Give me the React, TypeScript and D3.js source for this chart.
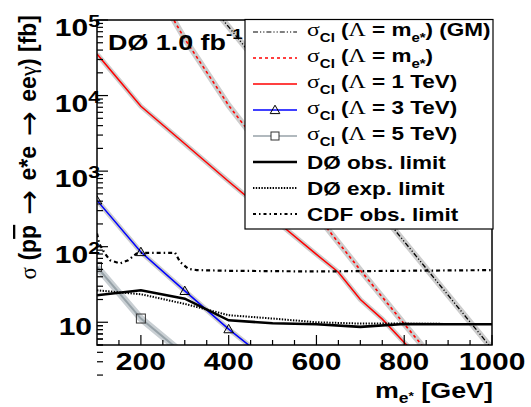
import React from 'react';
import * as d3 from 'd3';

const W = 531, H = 407;
const PL = 97, PR = 492, PT = 20, PB = 345;
const SX = 1.25;
const FONT = "'Liberation Sans', Arial, Helvetica, sans-serif";
const SYM = "'Liberation Serif', 'DejaVu Serif', serif";
const ARR = "'DejaVu Sans', sans-serif";

// Data (mass in GeV, cross section in fb)
const massGM = [300, 400, 500, 600, 700, 800, 900, 1000];
const xsecGM = [417000, 80900, 15800, 3080, 600, 117, 22.8, 4.45];

const massLm = [200, 300, 400, 500, 600, 700, 800, 900];
const xsecLm = [562000, 56200, 7410, 1320, 263, 49, 9.5, 1.9];

const mass1 = [100, 200, 300, 400, 500, 600, 650, 700, 750, 800, 900];
const xsec1 = [35500, 7200, 2300, 730, 240, 79, 46, 20, 11, 5.4, 1.4];

const mass3 = [100, 200, 300, 400, 500];
const xsec3 = [410, 85, 26, 8.1, 2.8];

const mass5 = [100, 200, 300];
const xsec5 = [54, 11.2, 3.7];

const massLim = [100, 200, 300, 400, 500, 600, 700, 800, 900, 1000];
const obsLim = [22.8, 26.5, 20.5, 10.6, 9.7, 9.4, 8.7, 9.5, 9.4, 9.4];
const expLim = [26.5, 23.5, 17.5, 12.4, 11.2, 10.0, 9.6, 9.6, 9.5, 9.5];

const massCDF = [100, 105, 118, 130, 152, 171, 190, 200, 278, 289, 308, 327, 400, 600, 800, 1000];
const cdfLim = [150, 110, 81, 66, 60, 66, 81, 83, 83, 63, 51, 49, 48, 47, 48, 49];

const xMajor = [200, 400, 600, 800, 1000];
const yDecades = [10, 100, 1000, 10000, 100000];

const x = d3.scaleLinear().domain([100, 1000]).range([PL, PR]);
const y = d3.scaleLog().domain([5, 1e5]).range([PB, PT]);

const line = d3.line<[number, number]>().x(d => x(d[0])).y(d => y(d[1]));
const zip = (a: number[], b: number[]) => a.map((v, i) => [v, b[i]] as [number, number]);

const BAND = '#cdcdcd';

function T(props: { x: number; y: number; anchor?: string; size: number; children: React.ReactNode; weight?: string }) {
  const { x: tx, y: ty, anchor = 'start', size, children, weight = 'bold' } = props;
  return (
    <g transform={`translate(${tx},${ty}) scale(${SX},1)`}>
      <text textAnchor={anchor as any} fontSize={size} fontWeight={weight} fontFamily={FONT} fill="#000">
        {children}
      </text>
    </g>
  );
}

function Tri({ cx, cy }: { cx: number; cy: number }) {
  const s = 4.8;
  return <path d={`M${cx},${cy - s}L${cx + s},${cy + s * 0.75}L${cx - s},${cy + s * 0.75}Z`} fill="none" stroke="#000" strokeWidth={1} />;
}
function Sq({ cx, cy }: { cx: number; cy: number }) {
  const s = 4.5;
  return <rect x={cx - s} y={cy - s} width={2 * s} height={2 * s} fill="none" stroke="#333" strokeWidth={1} />;
}

function SigmaLabel({ y0, rest }: { y0: number; rest: React.ReactNode }) {
  return (
    <g transform={`translate(307,${y0}) scale(${SX},1)`}>
      <text fontSize={18} fontWeight="bold" fontFamily={FONT}>
        <tspan fontFamily={SYM} fontWeight="normal" fontSize={19}>σ</tspan>
        <tspan fontSize={12} dy={6}>CI</tspan>
        <tspan dy={-6}> (</tspan>
        <tspan fontFamily={SYM} fontWeight="normal" fontSize={19}>Λ</tspan>
        {rest}
      </text>
    </g>
  );
}

export default function App() {
  const minorX: number[] = [];
  for (let m = 150; m <= 1000; m += 50) if (!xMajor.includes(m)) minorX.push(m);
  const minorY: number[] = [];
  for (let d = 1; d <= 10000; d *= 10) for (let k = 2; k <= 9; k++) minorY.push(k * d);
  [5, 6, 7, 8, 9].forEach(v => minorY.push(v));

  const rows = [32, 58, 84, 110, 136, 162, 188, 214];
  const LX0 = 253, LX1 = 297;

  return (
    <svg width={W} height={H} style={{ display: 'block', position: 'absolute', left: 0, top: 0 }}>
      <rect width={W} height={H} fill="#fff" />
      <defs>
        <clipPath id="plot"><rect x={PL} y={PT} width={PR - PL} height={PB - PT} /></clipPath>
      </defs>
      <g clipPath="url(#plot)" fill="none">
        {/* bands */}
        <path d={line(zip(massGM, xsecGM))!} stroke={BAND} strokeWidth={6} />
        <path d={line(zip(massLm, xsecLm))!} stroke={BAND} strokeWidth={6} />
        <path d={line(zip(mass1, xsec1))!} stroke={BAND} strokeWidth={5} />
        <path d={line(zip(mass3, xsec3))!} stroke={BAND} strokeWidth={5} />
        <path d={line(zip(mass5, xsec5))!} stroke="#c9cfd3" strokeWidth={7} />
        {/* theory lines */}
        <path d={line(zip(massGM, xsecGM))!} stroke="#000" strokeWidth={1.3} strokeDasharray="5,2,1.2,2,1.2,2" />
        <path d={line(zip(massLm, xsecLm))!} stroke="#f00" strokeWidth={1.6} strokeDasharray="3,3" />
        <path d={line(zip(mass1, xsec1))!} stroke="#f00" strokeWidth={1.5} />
        <path d={line(zip(mass3, xsec3))!} stroke="#00f" strokeWidth={1.5} />
        <path d={line(zip(mass5, xsec5))!} stroke="#97a2a8" strokeWidth={2} />
        {/* limits */}
        <path d={line(zip(massCDF, cdfLim))!} stroke="#000" strokeWidth={2.2} strokeDasharray="4,3,1.5,3" />
        <path d={line(zip(massLim, expLim))!} stroke="#000" strokeWidth={2} strokeDasharray="1.4,1.4" />
        <path d={line(zip(massLim, obsLim))!} stroke="#000" strokeWidth={2.6} />
        {/* markers */}
        {mass3.slice(0, 4).map((m, i) => <Tri key={'t' + i} cx={x(m)} cy={y(xsec3[i])} />)}
        {mass5.slice(0, 2).map((m, i) => <Sq key={'s' + i} cx={x(m)} cy={y(xsec5[i])} />)}
      </g>

      {/* frame */}
      <rect x={PL} y={PT} width={PR - PL} height={PB - PT} fill="none" stroke="#000" strokeWidth={1.5} />
      {/* x ticks */}
      {xMajor.map(m => <line key={'xm' + m} x1={x(m)} x2={x(m)} y1={PB} y2={PB - 10} stroke="#000" strokeWidth={1.2} />)}
      {minorX.map(m => <line key={'xn' + m} x1={x(m)} x2={x(m)} y1={PB} y2={PB - 5} stroke="#000" strokeWidth={1.2} />)}
      {/* y ticks */}
      {yDecades.map(v => <line key={'ym' + v} x1={PL} x2={PL + 11} y1={y(v)} y2={y(v)} stroke="#000" strokeWidth={1.2} />)}
      {minorY.map(v => <line key={'yn' + v} x1={PL} x2={PL + 6} y1={y(v)} y2={y(v)} stroke="#000" strokeWidth={1.2} />)}

      {/* x tick labels */}
      {xMajor.map(m => <T key={'xl' + m} x={x(m)} y={370} anchor="middle" size={24}>{String(m)}</T>)}
      {/* y tick labels */}
      {yDecades.map(v => {
        const e = Math.round(Math.log10(v));
        if (e === 1) return <T key={'yl' + v} x={92} y={y(v) + 12.5} anchor="end" size={24}>10</T>;
        return (
          <g key={'yl' + v} transform={`translate(100,${y(v) + 16}) scale(${SX},1)`}>
            <text textAnchor="end" fontSize={24} fontWeight="bold" fontFamily={FONT}>
              10<tspan fontSize={17} dy={-9}>{String(e)}</tspan>
            </text>
          </g>
        );
      })}

      {/* x title */}
      <g transform={`translate(493,398) scale(${SX},1)`}>
        <text textAnchor="end" fontSize={21.5} fontWeight="bold" fontFamily={FONT}>
          m<tspan fontSize={14} dy={5}>e</tspan><tspan fontSize={11} dy={-3}>*</tspan><tspan dy={-2}> [GeV]</tspan>
        </text>
      </g>
      {/* y title */}
      <g transform={`translate(36,15) rotate(-90)`}>
        <text textAnchor="end" fontSize={23} fontWeight="bold" fontFamily={FONT}>
          <tspan fontFamily={SYM} fontWeight="normal">σ</tspan> (p<tspan style={{ textDecoration: 'overline' }}>p</tspan>
          <tspan fontFamily={ARR} fontWeight="normal" fontSize={30} dy={3}> → </tspan><tspan dy={-3}>e*e</tspan><tspan fontFamily={ARR} fontWeight="normal" fontSize={30} dy={3}> → </tspan><tspan dy={-3}>ee</tspan><tspan fontFamily={SYM} fontWeight="normal">γ</tspan>) [fb]
        </text>
      </g>

      {/* experiment label */}
      <g transform={`translate(108,50) scale(${SX},1)`}>
        <text fontSize={21.5} fontWeight="bold" fontFamily={FONT}>
          DØ 1.0 fb<tspan fontSize={15} dy={-11}>-1</tspan>
        </text>
      </g>

      {/* legend */}
      <rect x={245} y={19.5} width={248} height={209.5} fill="#fff" stroke="#000" strokeWidth={1.2} />
      <line x1={LX0} x2={LX1} y1={rows[0]} y2={rows[0]} stroke="#000" strokeWidth={1.2} strokeDasharray="5,2,1.2,2,1.2,2" />
      <line x1={LX0} x2={LX1} y1={rows[1]} y2={rows[1]} stroke="#f00" strokeWidth={1.5} strokeDasharray="3,3" />
      <line x1={LX0} x2={LX1} y1={rows[2]} y2={rows[2]} stroke="#f00" strokeWidth={1.5} />
      <line x1={LX0} x2={LX1} y1={rows[3]} y2={rows[3]} stroke="#00f" strokeWidth={1.5} />
      <Tri cx={275} cy={rows[3]} />
      <line x1={LX0} x2={LX1} y1={rows[4]} y2={rows[4]} stroke="#97a2a8" strokeWidth={1.5} />
      <rect x={271} y={rows[4] - 4} width={8} height={8} fill="#fff" stroke="#333" strokeWidth={1} />
      <line x1={LX0} x2={LX1} y1={rows[5]} y2={rows[5]} stroke="#000" strokeWidth={2.6} />
      <line x1={LX0} x2={LX1} y1={rows[6]} y2={rows[6]} stroke="#000" strokeWidth={2} strokeDasharray="1.4,1.4" />
      <line x1={LX0} x2={LX1} y1={rows[7]} y2={rows[7]} stroke="#000" strokeWidth={2} strokeDasharray="3,3,1.5,3" />

      <SigmaLabel y0={rows[0] + 4} rest={<><tspan> = m</tspan><tspan fontSize={12} dy={6}>e*</tspan><tspan dy={-6}>) (GM)</tspan></>} />
      <SigmaLabel y0={rows[1] + 4} rest={<><tspan> = m</tspan><tspan fontSize={12} dy={6}>e*</tspan><tspan dy={-6}>)</tspan></>} />
      <SigmaLabel y0={rows[2] + 4} rest={<tspan> = 1 TeV)</tspan>} />
      <SigmaLabel y0={rows[3] + 4} rest={<tspan> = 3 TeV)</tspan>} />
      <SigmaLabel y0={rows[4] + 4} rest={<tspan> = 5 TeV)</tspan>} />
      <T x={307} y={rows[5] + 7} size={18}>DØ obs. limit</T>
      <T x={307} y={rows[6] + 7} size={18}>DØ exp. limit</T>
      <T x={307} y={rows[7] + 7} size={18}>CDF obs. limit</T>
    </svg>
  );
}
